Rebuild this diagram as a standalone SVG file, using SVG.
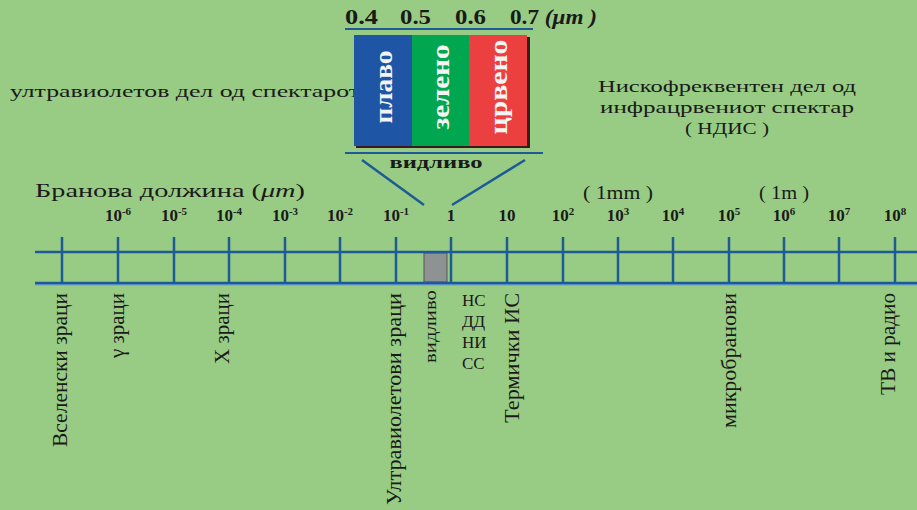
<svg xmlns="http://www.w3.org/2000/svg" width="917" height="510" viewBox="0 0 917 510">
<style>
text{font-family:"Liberation Serif","Times New Roman","DejaVu Serif",serif;fill:#1a1a1a}
.tick{font-size:17px;font-weight:bold;text-anchor:middle}
.sup{font-size:11px}
.ax{stroke:#1d5a96;stroke-width:2.5;fill:none}
.vl{font-size:20px}
.band{font-size:26px;font-weight:bold;fill:#f4f4f4;text-anchor:middle}
.num{font-size:21px;font-weight:bold}
</style>
<rect width="917" height="510" fill="#98cc84"/>

<g id="uv-label">
<text x="10" y="97" font-size="17" textLength="350" lengthAdjust="spacingAndGlyphs">ултравиолетов дел од спектарот</text>
</g>

<g id="ir-label" font-size="17" text-anchor="middle">
<text x="727" y="92" textLength="258" lengthAdjust="spacingAndGlyphs">Нискофреквентен дел од</text>
<text x="727" y="113" textLength="254" lengthAdjust="spacingAndGlyphs">инфрацрвениот спектар</text>
<text x="727" y="134" textLength="84" lengthAdjust="spacingAndGlyphs">( НДИС )</text>
</g>

<g id="visible-scale">
<text class="num" x="345" y="24" textLength="33" lengthAdjust="spacingAndGlyphs">0.4</text>
<text class="num" x="400" y="24" textLength="31" lengthAdjust="spacingAndGlyphs">0.5</text>
<text class="num" x="455" y="24" textLength="31" lengthAdjust="spacingAndGlyphs">0.6</text>
<text class="num" x="510" y="24" textLength="87" lengthAdjust="spacingAndGlyphs">0.7 <tspan font-style="italic">(μm )</tspan></text>
<line x1="345" y1="29" x2="533" y2="29" stroke="#1d5a96" stroke-width="2"/>
</g>

<g id="visible-box">
<rect x="356" y="37" width="174" height="111" fill="#3a1a1a"/>
<rect x="354" y="35" width="58" height="111" fill="#1e55a5"/>
<rect x="412" y="35" width="57" height="111" fill="#00a650"/>
<rect x="469" y="35" width="58" height="111" fill="#ec3f40"/>
<text class="band" transform="translate(392,87) rotate(-90)" textLength="73" lengthAdjust="spacingAndGlyphs">плаво</text>
<text class="band" transform="translate(449,87) rotate(-90)" textLength="85" lengthAdjust="spacingAndGlyphs">зелено</text>
<text class="band" transform="translate(507,87) rotate(-90)" textLength="95" lengthAdjust="spacingAndGlyphs">црвено</text>
<line x1="345" y1="153" x2="543" y2="153" stroke="#1d5a96" stroke-width="2"/>
<text x="436" y="168" font-size="16" font-weight="bold" text-anchor="middle" textLength="93" lengthAdjust="spacingAndGlyphs">видливо</text>
</g>

<g id="connectors" stroke="#1d5a96" stroke-width="2.5" fill="none">
<line x1="362" y1="160" x2="424" y2="205"/>
<line x1="525" y1="160" x2="452" y2="205"/>
</g>

<g id="axis-title">
<text x="35" y="197" font-size="18" textLength="270" lengthAdjust="spacingAndGlyphs">Бранова должина  (<tspan font-style="italic">μm</tspan>)</text>
<text x="618" y="199" font-size="19" text-anchor="middle" textLength="70" lengthAdjust="spacingAndGlyphs">( 1mm )</text>
<text x="784" y="199" font-size="19" text-anchor="middle" textLength="50" lengthAdjust="spacingAndGlyphs">( 1m )</text>
</g>

<g id="tick-labels" class="tick">
<text x="118" y="221">10<tspan class="sup" dy="-6">-6</tspan></text>
<text x="174" y="221">10<tspan class="sup" dy="-6">-5</tspan></text>
<text x="229" y="221">10<tspan class="sup" dy="-6">-4</tspan></text>
<text x="285" y="221">10<tspan class="sup" dy="-6">-3</tspan></text>
<text x="340" y="221">10<tspan class="sup" dy="-6">-2</tspan></text>
<text x="396" y="221">10<tspan class="sup" dy="-6">-1</tspan></text>
<text x="451" y="221">1</text>
<text x="507" y="221">10</text>
<text x="563" y="221">10<tspan class="sup" dy="-6">2</tspan></text>
<text x="618" y="221">10<tspan class="sup" dy="-6">3</tspan></text>
<text x="673" y="221">10<tspan class="sup" dy="-6">4</tspan></text>
<text x="729" y="221">10<tspan class="sup" dy="-6">5</tspan></text>
<text x="784" y="221">10<tspan class="sup" dy="-6">6</tspan></text>
<text x="839" y="221">10<tspan class="sup" dy="-6">7</tspan></text>
<text x="895" y="221">10<tspan class="sup" dy="-6">8</tspan></text>
</g>

<g id="axis">
<rect x="424" y="253" width="23" height="29" fill="#8e9292" stroke="#555" stroke-width="1"/>
<line class="ax" x1="35" y1="252" x2="917" y2="252"/>
<line x1="35" y1="284.5" x2="917" y2="284.5" stroke="#6a9ccf" stroke-width="2"/>
<line class="ax" x1="35" y1="283" x2="917" y2="283"/>
<g class="ax">
<line x1="62" y1="237" x2="62" y2="283"/>
<line x1="118" y1="237" x2="118" y2="283"/>
<line x1="174" y1="237" x2="174" y2="283"/>
<line x1="229" y1="237" x2="229" y2="283"/>
<line x1="285" y1="237" x2="285" y2="283"/>
<line x1="340" y1="237" x2="340" y2="283"/>
<line x1="396" y1="237" x2="396" y2="283"/>
<line x1="451" y1="237" x2="451" y2="283"/>
<line x1="507" y1="237" x2="507" y2="283"/>
<line x1="563" y1="237" x2="563" y2="283"/>
<line x1="618" y1="237" x2="618" y2="283"/>
<line x1="673" y1="237" x2="673" y2="283"/>
<line x1="729" y1="237" x2="729" y2="283"/>
<line x1="784" y1="237" x2="784" y2="283"/>
<line x1="839" y1="237" x2="839" y2="283"/>
<line x1="895" y1="237" x2="895" y2="283"/>
</g>
</g>

<g id="cosmic"><text class="vl" text-anchor="end" transform="translate(67,293) rotate(-90)" textLength="154" lengthAdjust="spacingAndGlyphs">Вселенски зраци</text></g>
<g id="gamma"><text class="vl" text-anchor="end" transform="translate(124,293) rotate(-90)" textLength="65" lengthAdjust="spacingAndGlyphs">γ зраци</text></g>
<g id="xray"><text class="vl" text-anchor="end" transform="translate(229,293) rotate(-90)" textLength="71" lengthAdjust="spacingAndGlyphs">X зраци</text></g>
<g id="uv"><text class="vl" text-anchor="end" transform="translate(401,293) rotate(-90)" textLength="212" lengthAdjust="spacingAndGlyphs">Ултравиолетови зраци</text></g>
<g id="visible"><text font-size="16" text-anchor="end" transform="translate(436,290) rotate(-90)" textLength="73" lengthAdjust="spacingAndGlyphs">видливо</text></g>
<g id="ir-bands" font-size="17">
<text x="462" y="306">НС</text>
<text x="462" y="327">ДД</text>
<text x="462" y="348">НИ</text>
<text x="462" y="369">СС</text>
</g>
<g id="thermal"><text class="vl" text-anchor="end" transform="translate(519,293) rotate(-90)" textLength="130" lengthAdjust="spacingAndGlyphs">Термички ИС</text></g>
<g id="microwave"><text class="vl" font-size="17" text-anchor="end" transform="translate(736,293) rotate(-90)" textLength="135" lengthAdjust="spacingAndGlyphs">микробранови</text></g>
<g id="tv-radio"><text class="vl" text-anchor="end" transform="translate(895,293) rotate(-90)" textLength="102" lengthAdjust="spacingAndGlyphs">ТВ и радио</text></g>
</svg>
